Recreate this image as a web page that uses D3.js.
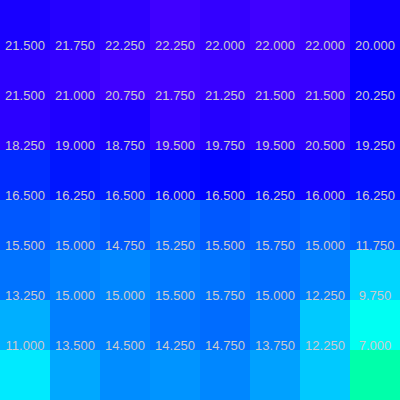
<!DOCTYPE html>
<html>
<head>
<meta charset="utf-8">
<script src="https://d3js.org/d3.v7.min.js"></script>
<style>
  html, body { margin: 0; padding: 0; background: #fff; }
  svg { display: block; }
</style>
</head>
<body>
<svg id="chart" width="400" height="400"></svg>
<script>
// categories
const columns = ["c0", "c1", "c2", "c3", "c4", "c5", "c6", "c7"];
const rows = ["r0", "r1", "r2", "r3", "r4", "r5", "r6", "r7"];

// series values, one array per row (top to bottom)
const row0 = [20.75, 21.25, 21.50, 22.25, 21.75, 22.25, 22.00, 20.50];
const row1 = [21.50, 21.75, 22.25, 22.25, 22.00, 22.00, 22.00, 20.00];
const row2 = [21.50, 21.00, 20.75, 21.75, 21.25, 21.50, 21.50, 20.25];
const row3 = [18.25, 19.00, 18.75, 19.50, 19.75, 19.50, 20.50, 19.25];
const row4 = [16.50, 16.25, 16.50, 16.00, 16.50, 16.25, 16.00, 16.25];
const row5 = [15.50, 15.00, 14.75, 15.25, 15.50, 15.75, 15.00, 11.75];
const row6 = [13.25, 15.00, 15.00, 15.50, 15.75, 15.00, 12.25, 9.75];
const row7 = [11.00, 13.50, 14.50, 14.25, 14.75, 13.75, 12.25, 7.00];

const matrix = [row0, row1, row2, row3, row4, row5, row6, row7];

const W = 400, H = 400;
const svg = d3.select("#chart");

const x = d3.scaleBand().domain(columns).range([0, W]);
const y = d3.scaleBand().domain(rows).range([0, H]);

const color = d3.scaleLinear()
  .domain([7, 22.25])
  .range([d3.hsl(160, 1, 0.5), d3.hsl(255, 1, 0.5)])
  .interpolate(d3.interpolateHsl)
  .clamp(true);

const cells = [];
matrix.forEach((vals, i) => {
  vals.forEach((v, j) => cells.push({ row: rows[i], col: columns[j], value: v }));
});

svg.append("g").selectAll("rect")
  .data(cells)
  .join("rect")
  .attr("x", d => x(d.col))
  .attr("y", d => y(d.row))
  .attr("width", x.bandwidth())
  .attr("height", y.bandwidth())
  .attr("fill", d => color(d.value));

const fmt = d3.format(".3f");
svg.append("g").selectAll("text")
  .data(cells)
  .join("text")
  .attr("x", d => x(d.col) + x.bandwidth() / 2)
  .attr("y", d => y(d.row))
  .attr("text-anchor", "middle")
  .attr("font-family", "'Liberation Sans', Arial, Helvetica, sans-serif")
  .attr("font-size", 13)
  .attr("fill", "#cccccc")
  .text(d => fmt(d.value));
</script>
</body>
</html>
